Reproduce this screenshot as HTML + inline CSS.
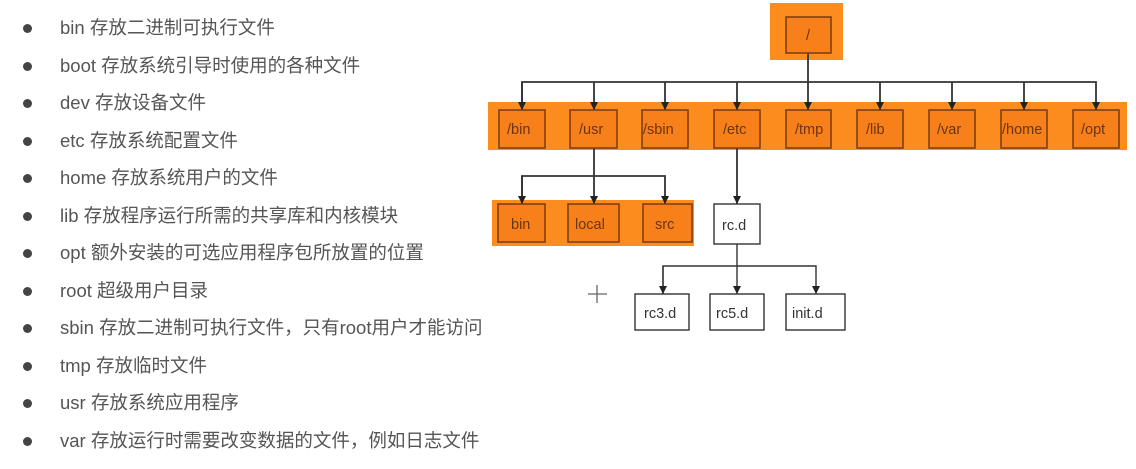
<!DOCTYPE html>
<html><head><meta charset="utf-8"><style>
html,body{margin:0;padding:0;background:#fff;width:1136px;height:469px;overflow:hidden;position:relative}
.li{position:absolute;left:60px;font:18.5px "Liberation Sans","Noto Sans CJK SC",sans-serif;color:#555;white-space:nowrap;line-height:20px}
.b{position:absolute;left:23px;width:9px;height:9px;border-radius:50%;background:#444}
svg{position:absolute;left:0;top:0}
</style></head><body>
<div class="b" style="top:24px"></div><div class="li" style="top:18px">bin 存放二进制可执行文件</div>
<div class="b" style="top:62px"></div><div class="li" style="top:56px">boot 存放系统引导时使用的各种文件</div>
<div class="b" style="top:99px"></div><div class="li" style="top:93px">dev 存放设备文件</div>
<div class="b" style="top:137px"></div><div class="li" style="top:131px">etc 存放系统配置文件</div>
<div class="b" style="top:174px"></div><div class="li" style="top:168px">home 存放系统用户的文件</div>
<div class="b" style="top:212px"></div><div class="li" style="top:206px">lib 存放程序运行所需的共享库和内核模块</div>
<div class="b" style="top:249px"></div><div class="li" style="top:243px">opt 额外安装的可选应用程序包所放置的位置</div>
<div class="b" style="top:287px"></div><div class="li" style="top:281px">root 超级用户目录</div>
<div class="b" style="top:324px"></div><div class="li" style="top:318px">sbin 存放二进制可执行文件，只有root用户才能访问</div>
<div class="b" style="top:362px"></div><div class="li" style="top:356px">tmp 存放临时文件</div>
<div class="b" style="top:399px"></div><div class="li" style="top:393px">usr 存放系统应用程序</div>
<div class="b" style="top:437px"></div><div class="li" style="top:431px">var 存放运行时需要改变数据的文件，例如日志文件</div>
<svg width="1136" height="469" viewBox="0 0 1136 469" font-family="Liberation Sans, sans-serif" font-size="14.5">
<defs><marker id="a" markerWidth="9" markerHeight="9" refX="8" refY="4" orient="auto" markerUnits="userSpaceOnUse"><path d="M0,0 L8,4 L0,8 z" fill="#222"/></marker></defs>
<rect x="770" y="3" width="73" height="57" fill="#fd8c1f"/>
<rect x="488" y="102" width="639" height="48" fill="#fd8c1f"/>
<rect x="492" y="200" width="202" height="46" fill="#fd8c1f"/>
<g stroke="#333" stroke-width="1.8" fill="none">
<line x1="808" y1="53" x2="808" y2="110" marker-end="url(#a)"/>
<polyline points="522,110 522,82 1096,82 1096,110" marker-end="url(#a)"/>
<line x1="522" y1="82" x2="522" y2="110" marker-end="url(#a)"/>
<line x1="594" y1="82" x2="594" y2="110" marker-end="url(#a)"/>
<line x1="665" y1="82" x2="665" y2="110" marker-end="url(#a)"/>
<line x1="737" y1="82" x2="737" y2="110" marker-end="url(#a)"/>
<line x1="880" y1="82" x2="880" y2="110" marker-end="url(#a)"/>
<line x1="952" y1="82" x2="952" y2="110" marker-end="url(#a)"/>
<line x1="1024" y1="82" x2="1024" y2="110" marker-end="url(#a)"/>
<line x1="594" y1="148" x2="594" y2="204" marker-end="url(#a)"/>
<polyline points="522,204 522,176 665,176 665,204" marker-end="url(#a)"/>
<line x1="522" y1="176" x2="522" y2="204" marker-end="url(#a)"/>
<line x1="737" y1="148" x2="737" y2="204" marker-end="url(#a)"/>
</g>
<g stroke="#333" stroke-width="1.4" fill="none">
<line x1="737" y1="244" x2="737" y2="294" marker-end="url(#a)"/>
<polyline points="663,294 663,266 816,266 816,294" marker-end="url(#a)"/>
<line x1="663" y1="266" x2="663" y2="294" marker-end="url(#a)"/>
</g>
<g stroke="#7a3a10" stroke-width="1.5" fill="#f7801a">
<rect x="786" y="17" width="45" height="36"/>
<rect x="499" y="110" width="46" height="38"/><rect x="570" y="110" width="47" height="38"/>
<rect x="642" y="110" width="46" height="38"/><rect x="714" y="110" width="46" height="38"/>
<rect x="786" y="110" width="45" height="38"/><rect x="857" y="110" width="46" height="38"/>
<rect x="929" y="110" width="46" height="38"/><rect x="1001" y="110" width="46" height="38"/>
<rect x="1073" y="110" width="46" height="38"/>
<rect x="498" y="204" width="47" height="38"/><rect x="568" y="204" width="51" height="38"/>
<rect x="643" y="204" width="49" height="38"/>
</g>
<g stroke="#333" stroke-width="1.4" fill="#fff">
<rect x="714" y="204" width="46" height="40"/>
<rect x="635" y="294" width="54" height="36"/><rect x="710" y="294" width="54" height="36"/>
<rect x="786" y="294" width="59" height="36"/>
</g>
<g fill="#6b3410">
<text x="806" y="40">/</text>
<text x="507" y="134">/bin</text><text x="579" y="134">/usr</text><text x="643" y="134">/sbin</text>
<text x="723" y="134">/etc</text><text x="795" y="134">/tmp</text><text x="866" y="134">/lib</text>
<text x="937" y="134">/var</text><text x="1002" y="134">/home</text><text x="1081" y="134">/opt</text>
<text x="511" y="229">bin</text><text x="575" y="229">local</text><text x="655" y="229">src</text>
</g>
<g fill="#333">
<text x="722" y="230">rc.d</text>
<text x="644" y="318">rc3.d</text><text x="716" y="318">rc5.d</text><text x="792" y="318">init.d</text>
</g>
<g stroke="#666" stroke-width="1.3"><line x1="588" y1="294" x2="607" y2="294"/><line x1="597" y1="285" x2="597" y2="303"/></g>
</svg>
</body></html>
